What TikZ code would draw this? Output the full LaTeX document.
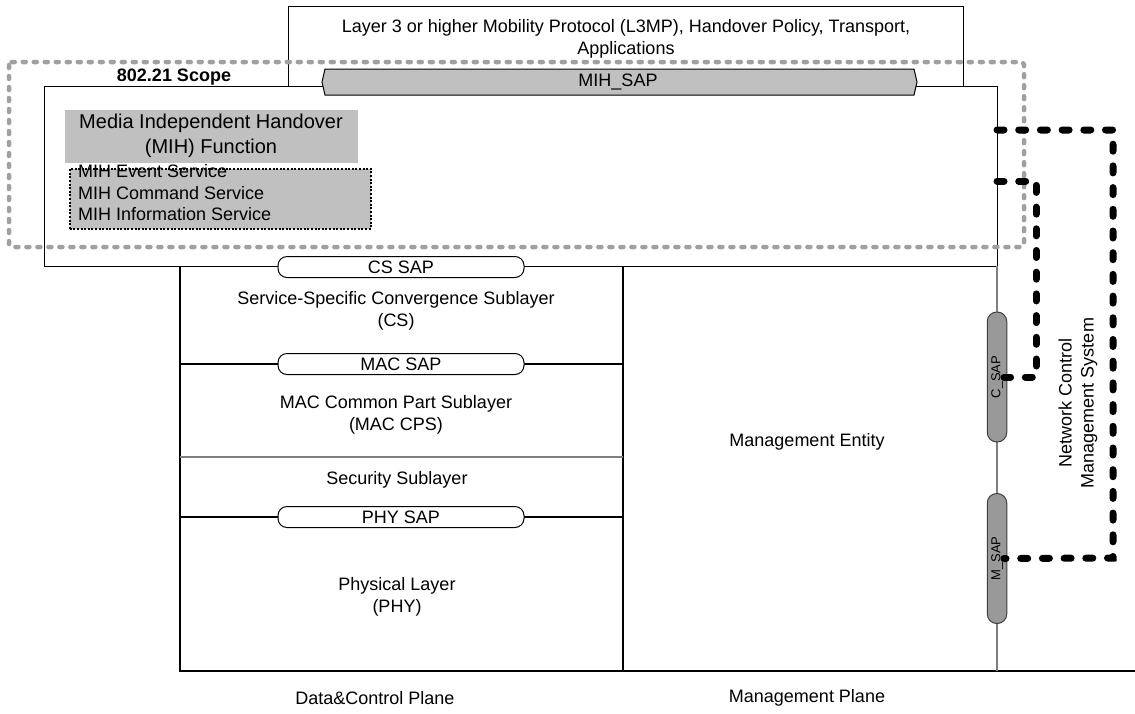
\documentclass[tikz,border=0pt]{standalone}
\usepackage{fontspec}
\setmainfont{Liberation Sans}
\usetikzlibrary{calc}
\definecolor{boxgray}{HTML}{C0C0C0}
\definecolor{sapgray}{HTML}{999999}
\definecolor{scopegray}{HTML}{A0A0A0}
\definecolor{linegray}{HTML}{808080}
\begin{document}
\begin{tikzpicture}[x=1pt,y=-1pt,
  txt/.style={font=\fontsize{18}{22}\selectfont, inner sep=0pt, align=center},
  bigtxt/.style={font=\fontsize{20}{24.5}\selectfont, inner sep=0pt, align=center},
  box/.style={draw=black, line width=1.2pt, inner sep=0pt, anchor=north west},
  sapbox/.style={draw=black, fill=white, rounded corners=9pt, line width=1pt, inner sep=0pt, minimum width=246pt, minimum height=21pt, font=\fontsize{18}{22}\selectfont},
  vsap/.style={draw=black!75, fill=sapgray, rounded corners=9.5pt, line width=1pt, inner sep=0pt, minimum width=130pt, minimum height=19.5pt, rotate=90, font=\fontsize{13}{15}\selectfont},
  scopeline/.style={draw=scopegray, line width=4.5pt, dash pattern=on 3pt off 8pt, line cap=round},
  ctrl/.style={draw=black, line width=7pt, dash pattern=on 7pt off 14.7pt, line cap=round},
  thin/.style={draw=black, line width=1.2pt},
  grayline/.style={draw=linegray, line width=1.2pt},
]
\useasboundingbox (0,0) rectangle (1135,713);
\fill[white] (0,0) rectangle (1135,713);

% upper layer box
\node[box, minimum width=675pt, minimum height=80pt] (upper) at (288,6) {};
\node[txt] (uppertxt) at (626,39) {Layer 3 or higher Mobility Protocol (L3MP), Handover Policy, Transport,\\Applications};

% main MIH box
\node[box, fill=white, minimum width=953pt, minimum height=180pt] (main) at (44,86) {};

% MIH_SAP
\draw[fill=boxgray, line width=1pt] (325,69) -- (914,69) -- (917,82) -- (914,95) -- (325,95) -- (322,82) -- cycle;
\node[txt] (mihsap) at (618,82) {MIH\_SAP};

% MIH function
\node[anchor=north west, fill=boxgray, minimum width=293pt, minimum height=53pt, inner sep=0pt] (mihf) at (65,110) {};
\node[bigtxt] (mihftxt) at (211,136) {Media Independent Handover\\(MIH) Function};
\node[anchor=north west, fill=boxgray, draw=black, line width=1.6pt, dash pattern=on 2pt off 1.6pt, minimum width=301pt, minimum height=60pt, inner sep=0pt] (services) at (69,168) {};
\node[txt, align=left, anchor=north west, font=\fontsize{18}{21.5}\selectfont] (servtxt) at (78,164.5) {MIH Event Service\\MIH Command Service\\MIH Information Service};

% scope label
\node[txt, font=\bfseries\fontsize{18}{22}\selectfont] (scopetxt) at (174,77) {802.21 Scope};

% plane lines
\coordinate (dl) at (180,266);
\coordinate (dlb) at (180,671);
\coordinate (dm) at (623,266);
\coordinate (dmb) at (623,671);
\coordinate (mr) at (997,266);
\coordinate (mrb) at (997,671);
\coordinate (br) at (1135,671);
\draw[thin] (dl) -- (dlb) -- (br);
\draw[thin] (dm) -- (dmb);
\draw[grayline] (mr) -- (mrb);
\draw[thin] (180,364) -- (623,364);
\draw[grayline] (180,457) -- (623,457);
\draw[thin] (180,517) -- (623,517);

% SAPs
\node[sapbox] (cssap) at (401,267) {CS SAP};
\node[sapbox] (macsap) at (401,364) {MAC SAP};
\node[sapbox] (physap) at (401,517) {PHY SAP};

% layer texts
\node[txt] (cs) at (396,311) {Service-Specific Convergence Sublayer\\(CS)};
\node[txt] (mac) at (396,415) {MAC Common Part Sublayer\\(MAC CPS)};
\node[txt] (sec) at (397,480) {Security Sublayer};
\node[txt] (phy) at (397,597) {Physical Layer\\(PHY)};
\node[txt] (me) at (807,442) {Management Entity};
\node[txt] (dcp) at (375,698) {Data\&Control Plane};
\node[txt] (mp) at (807,698) {Management Plane};

% C_SAP and M_SAP
\node[vsap] (csap) at (997,377) {C\_SAP};
\node[vsap] (msap) at (997,558.5) {M\_SAP};

% NCMS
\node[txt, rotate=90] (ncms) at (1078,403) {Network Control\\Management System};

% scope dashed rectangle
\draw[scopeline, rounded corners=3pt] (9,62) rectangle (1024,247);

% control connectors
\coordinate (o1) at (997,130);
\coordinate (o2) at (1113,130);
\coordinate (o3) at (1113,558);
\coordinate (i1) at (997,181);
\coordinate (i2) at (1036,181);
\coordinate (i3) at (1036,377);
\draw[ctrl] (o1) -- (o2) -- (o3) -- (msap.center -| 1004,0);
\draw[ctrl] (i1) -- (i2) -- (i3) -- (csap.center -| 1004,0);
\end{tikzpicture}
\end{document}
